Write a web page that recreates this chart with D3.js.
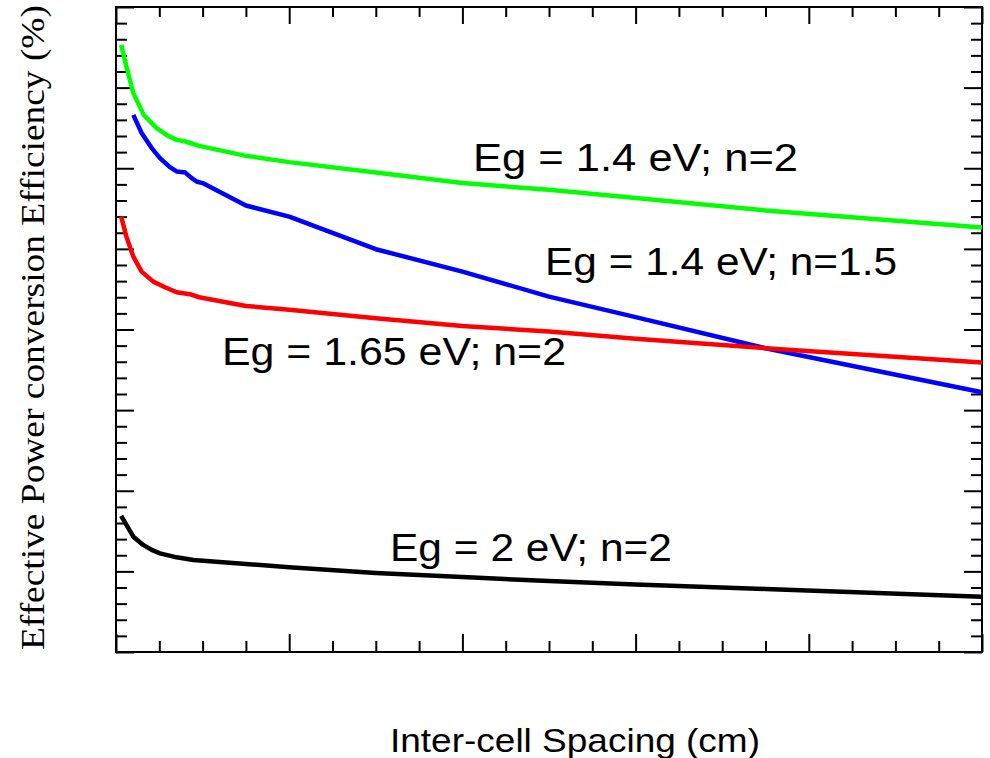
<!DOCTYPE html>
<html>
<head>
<meta charset="utf-8">
<script src="https://cdn.jsdelivr.net/npm/d3@7"></script>
<style>
  html, body { margin: 0; padding: 0; background: #fff; }
  svg { display: block; }
</style>
</head>
<body>
<svg id="chart" width="990" height="758"></svg>
<script>
// Inter-cell spacing (cm) at which each efficiency curve is sampled
const spacingA = [0.03, 0.06, 0.10, 0.16, 0.235, 0.30, 0.35, 0.40, 0.48, 0.75, 1.0, 1.5, 2.0, 2.5, 3.0, 3.75, 5.0];
const spacingB = [0.10, 0.148, 0.206, 0.254, 0.311, 0.35, 0.40, 0.437, 0.465, 0.50, 0.75, 1.0, 1.5, 2.0, 2.5, 3.0, 3.75, 5.0];
const spacingC = [0.03, 0.06, 0.10, 0.148, 0.215, 0.283, 0.35, 0.427, 0.48, 0.75, 1.0, 1.5, 2.0, 2.5, 3.0, 3.75, 5.0];
const spacingD = [0.03, 0.06, 0.10, 0.157, 0.206, 0.254, 0.35, 0.446, 0.75, 1.0, 1.5, 2.0, 2.5, 3.0, 3.75, 5.0];

// Effective power conversion efficiency (%) per curve
const effEg14n2  = [37.65, 36.31, 34.66, 33.31, 32.49, 32.01, 31.76, 31.66, 31.39, 30.77, 30.38, 29.73, 29.08, 28.66, 28.15, 27.38, 26.32];
const effEg14n15 = [33.31, 32.18, 31.25, 30.63, 30.07, 29.80, 29.73, 29.39, 29.18, 29.08, 27.69, 27.00, 24.98, 23.59, 22.04, 20.77, 18.84, 16.11];
const effEg165n2 = [27.00, 25.76, 24.52, 23.59, 22.97, 22.62, 22.31, 22.19, 22.00, 21.46, 21.22, 20.70, 20.22, 19.87, 19.43, 18.84, 17.95];
const effEg2n2   = [8.44, 7.88, 7.15, 6.64, 6.33, 6.12, 5.87, 5.71, 5.46, 5.25, 4.90, 4.65, 4.40, 4.19, 3.91, 3.43];

const seriesNames = ["Eg = 1.4 eV; n=2", "Eg = 1.4 eV; n=1.5", "Eg = 1.65 eV; n=2", "Eg = 2 eV; n=2"];
const seriesColors = ["#00ff00", "#0000ff", "#ff0000", "#000000"];

// Axis ticks (unlabelled)
const xMajorTicks = [0, 1, 2, 3, 4, 5];
const xMinorTicks = d3.range(0, 5.001, 0.25).filter(v => Math.abs(v - Math.round(v)) > 1e-6);
const yMajorTicks = d3.range(0, 40.001, 5);
const yMinorTicks = d3.range(0, 40.001, 1).filter(v => v % 5 !== 0);

const xTitle = "Inter-cell Spacing (cm)";
const yTitle = "Effective Power conversion Efficiency (%)";

const svg = d3.select("#chart");
const plotLeft = 116, plotRight = 982, plotTop = 7, plotBottom = 652;

const x = d3.scaleLinear().domain([0, 5]).range([plotLeft, plotRight]);
const y = d3.scaleLinear().domain([0, 40]).range([plotBottom, plotTop]);

const majorLen = 18, minorLen = 11;

function tickLayer(axis, transform) {
  const g = svg.append("g").attr("transform", transform).call(axis);
  g.select(".domain").remove();
  g.selectAll(".tick line").attr("stroke", "#000").attr("stroke-width", 2);
  g.selectAll(".tick text").remove();
}

// Inward ticks on all four sides
tickLayer(d3.axisBottom(x).tickValues(xMajorTicks).tickSize(-majorLen).tickFormat(""), `translate(0,${plotBottom})`);
tickLayer(d3.axisBottom(x).tickValues(xMinorTicks).tickSize(-minorLen).tickFormat(""), `translate(0,${plotBottom})`);
tickLayer(d3.axisTop(x).tickValues(xMajorTicks).tickSize(-majorLen + 1).tickFormat(""), `translate(0,${plotTop})`);
tickLayer(d3.axisTop(x).tickValues(xMinorTicks).tickSize(-minorLen + 1).tickFormat(""), `translate(0,${plotTop})`);
tickLayer(d3.axisLeft(y).tickValues(yMajorTicks).tickSize(-majorLen).tickFormat(""), `translate(${plotLeft},0)`);
tickLayer(d3.axisLeft(y).tickValues(yMinorTicks).tickSize(-minorLen).tickFormat(""), `translate(${plotLeft},0)`);
tickLayer(d3.axisRight(y).tickValues(yMajorTicks).tickSize(-majorLen).tickFormat(""), `translate(${plotRight},0)`);
tickLayer(d3.axisRight(y).tickValues(yMinorTicks).tickSize(-minorLen).tickFormat(""), `translate(${plotRight},0)`);

// Plot frame
svg.append("rect")
  .attr("x", plotLeft).attr("y", plotTop)
  .attr("width", plotRight - plotLeft).attr("height", plotBottom - plotTop)
  .attr("fill", "none").attr("stroke", "#000").attr("stroke-width", 2);

// Curves
const curves = [
  { xs: spacingA, ys: effEg14n2 },
  { xs: spacingB, ys: effEg14n15 },
  { xs: spacingC, ys: effEg165n2 },
  { xs: spacingD, ys: effEg2n2 }
];
const line = d3.line().x(d => x(d[0])).y(d => y(d[1]));
const plot = svg.append("g");
curves.forEach((c, i) => {
  plot.append("path")
    .datum(d3.zip(c.xs, c.ys))
    .attr("d", line)
    .attr("fill", "none")
    .attr("stroke", seriesColors[i])
    .attr("stroke-width", 4.5)
    .attr("stroke-linejoin", "round");
});

// Curve labels
const labelPos = [
  { x: 473, y: 171, w: 325 },
  { x: 545, y: 275, w: 352 },
  { x: 222, y: 365, w: 344 },
  { x: 390, y: 561, w: 282 }
];
seriesNames.forEach((name, i) => {
  svg.append("text")
    .attr("x", labelPos[i].x).attr("y", labelPos[i].y)
    .attr("textLength", labelPos[i].w)
    .attr("lengthAdjust", "spacingAndGlyphs")
    .attr("font-family", "'Liberation Sans', Arial, sans-serif")
    .attr("font-size", 38)
    .attr("fill", "#000")
    .text(name);
});

// Axis titles
svg.append("text")
  .attr("x", 390).attr("y", 752)
  .attr("textLength", 370)
  .attr("lengthAdjust", "spacingAndGlyphs")
  .attr("font-family", "'Liberation Sans', Arial, sans-serif")
  .attr("font-size", 33)
  .attr("fill", "#000")
  .text(xTitle);

svg.append("text")
  .attr("transform", "translate(44,650) rotate(-90)")
  .attr("textLength", 645)
  .attr("lengthAdjust", "spacingAndGlyphs")
  .attr("font-family", "'Liberation Serif', 'Times New Roman', serif")
  .attr("font-size", 34)
  .attr("fill", "#000")
  .text(yTitle);
</script>
</body>
</html>
